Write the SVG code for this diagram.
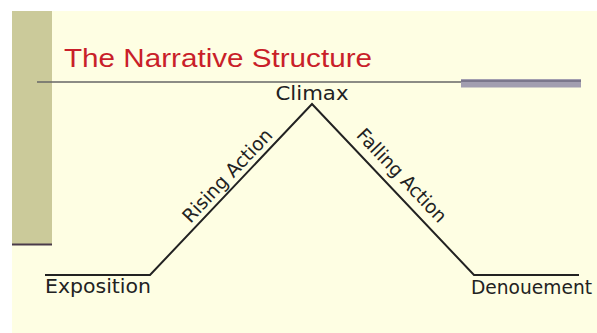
<svg xmlns="http://www.w3.org/2000/svg" width="597" height="333" viewBox="0 0 597 333">
<style>
.lbl{font-family:"DejaVu Sans",sans-serif;font-size:19px;fill:#222}
.edge{fill:none;stroke:#222;stroke-width:2;stroke-linejoin:miter}
</style>
<rect x="0" y="0" width="597" height="333" fill="#ffffff"/>
<rect x="12" y="11" width="585" height="322" fill="#fefee3"/>
<g id="sidebar">
<rect x="12" y="11" width="40" height="233" fill="#cbca9a"/>
<line x1="12" y1="244.5" x2="52" y2="244.5" stroke="#4a3a4a" stroke-width="2"/>
</g>
<g id="title">
<text x="64" y="66.5" font-family="Liberation Sans, Arial, sans-serif" font-size="25" fill="#c91f2a" textLength="308" lengthAdjust="spacingAndGlyphs">The Narrative Structure</text>
<line x1="37" y1="82" x2="461" y2="82" stroke="#666" stroke-width="1.5"/>
<rect x="461" y="79" width="120" height="8.5" fill="#a29eb0"/>
<line x1="461" y1="81" x2="581" y2="81" stroke="#6e6a80" stroke-width="1.5"/>
</g>
<g id="connectors">
<polyline class="edge" points="45,275 150,275 312,104 474,275 579,275"/>
</g>
<g id="climax"><text class="lbl" x="312" y="100" text-anchor="middle" textLength="73" lengthAdjust="spacingAndGlyphs">Climax</text></g>
<g id="exposition"><text class="lbl" x="45" y="292.5" font-size="20" textLength="106" lengthAdjust="spacingAndGlyphs">Exposition</text></g>
<g id="denouement"><text class="lbl" x="471" y="294" font-size="20" textLength="121" lengthAdjust="spacingAndGlyphs">Denouement</text></g>
<g id="rising"><text class="lbl" transform="translate(232,180) rotate(-46.55)" text-anchor="middle" textLength="121" lengthAdjust="spacingAndGlyphs">Rising Action</text></g>
<g id="falling"><text class="lbl" transform="translate(397,180) rotate(46.55)" text-anchor="middle" textLength="121" lengthAdjust="spacingAndGlyphs">Falling Action</text></g>
</svg>
